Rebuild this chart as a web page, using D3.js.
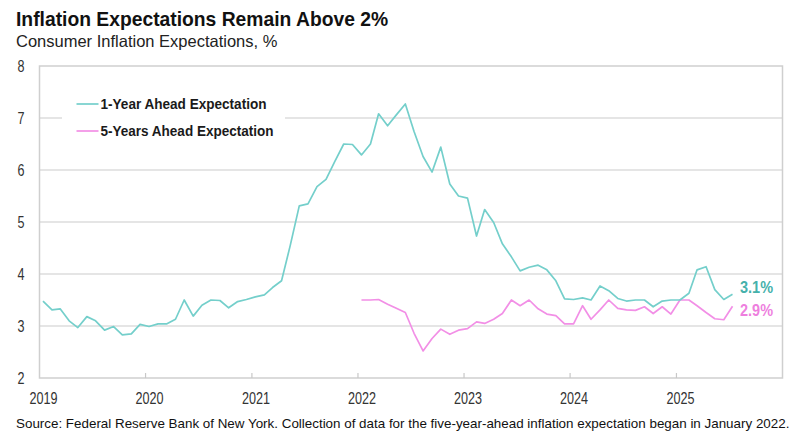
<!DOCTYPE html>
<html>
<head>
<meta charset="utf-8">
<script src="https://cdn.jsdelivr.net/npm/d3@7"></script>
<style>
  body { margin: 0; background: #fff; }
  svg text { font-family: "Liberation Sans", Arial, sans-serif; }
</style>
</head>
<body>
<div id="chart"></div>
<script>
// monthly series, Jan 2019 .. Jul 2025
const oneYearStart = [2019, 0];
const oneYear = [
  3.48, 3.31, 3.33, 3.10, 2.97, 3.18, 3.10, 2.92, 2.99, 2.83, 2.85, 3.03,
  2.99, 3.04, 3.04, 3.13, 3.50, 3.19, 3.40, 3.50, 3.49, 3.35, 3.47, 3.51,
  3.56, 3.60, 3.74, 3.87, 4.55, 5.31, 5.35, 5.68, 5.82, 6.16, 6.50, 6.49,
  6.29, 6.50, 7.08, 6.85, 7.06, 7.27, 6.74, 6.26, 5.96, 6.44, 5.73, 5.50,
  5.46, 4.73, 5.24, 4.99, 4.58, 4.33, 4.06, 4.13, 4.17, 4.08, 3.87, 3.52,
  3.51, 3.54, 3.50, 3.77, 3.68, 3.53, 3.48, 3.50, 3.50, 3.37, 3.48, 3.50,
  3.50, 3.63, 4.08, 4.14, 3.70, 3.51, 3.61
];
// five-year series starts Jan 2022
const fiveYearStart = [2022, 0];
const fiveYear = [
  3.50, 3.50, 3.51, 3.42, 3.34, 3.26, 2.86, 2.52, 2.76, 2.94, 2.84, 2.92,
  2.95, 3.08, 3.05, 3.13, 3.24, 3.50, 3.39, 3.50, 3.33, 3.23, 3.20, 3.04,
  3.04, 3.39, 3.13, 3.31, 3.50, 3.34, 3.31, 3.30, 3.37, 3.24, 3.37, 3.23,
  3.50, 3.50, 3.39, 3.26, 3.14, 3.12, 3.38
];
const yearTicks = [2019, 2020, 2021, 2022, 2023, 2024, 2025];
const yTicks = [2, 3, 4, 5, 6, 7, 8];
const seriesNames = ['1-Year Ahead Expectation', '5-Years Ahead Expectation'];
const lastLabels = ['3.1%', '2.9%'];

const W = 802, H = 439;
const teal = '#74cfcb', pink = '#f28fe6';
const tealText = '#45b1ab', pinkText = '#ee7fde';

const toPoints = (start, vals) => vals.map((v, i) => ({
  date: new Date(start[0], start[1] + i, 13), value: v
}));
const d1 = toPoints(oneYearStart, oneYear);
const d5 = toPoints(fiveYearStart, fiveYear);

const svg = d3.select('#chart').append('svg')
  .attr('width', W).attr('height', H);

const x = d3.scaleTime()
  .domain([new Date(2019, 0, 1), new Date(2026, 0, 1)])
  .range([39.5, 782.5]);
const y = d3.scaleLinear().domain([2, 8]).range([378, 66]);

// no narrow font installed, so squeeze the regular one
const squeeze = (sel, w) => sel.attr('textLength', w).attr('lengthAdjust', 'spacingAndGlyphs');

// title + subtitle
svg.append('text').attr('x', 16).attr('y', 26)
  .attr('font-size', 19.3).attr('font-weight', 'bold').attr('fill', '#111')
  .text('Inflation Expectations Remain Above 2%');
svg.append('text').attr('x', 16).attr('y', 47)
  .attr('font-size', 16.5).attr('fill', '#222')
  .text('Consumer Inflation Expectations, %');

// gridlines
svg.append('g').selectAll('line')
  .data(yTicks.slice(1, -1))
  .join('line')
    .attr('x1', x.range()[0]).attr('x2', x.range()[1])
    .attr('y1', d => y(d)).attr('y2', d => y(d))
    .attr('stroke', '#cccccc').attr('stroke-width', 1.2);

// frame
svg.append('rect')
  .attr('x', x.range()[0]).attr('y', y(8))
  .attr('width', x.range()[1] - x.range()[0]).attr('height', y(2) - y(8))
  .attr('fill', 'none').attr('stroke', '#cfcfcf').attr('stroke-width', 1.5);

// y tick labels
svg.append('g').selectAll('text')
  .data(yTicks)
  .join('text')
    .attr('x', 21).attr('y', d => y(d))
    .attr('dy', '0.35em').attr('text-anchor', 'middle')
    .attr('font-size', 16).attr('fill', '#333')
    .call(squeeze, 7)
    .text(d => d);

// x ticks (inside) + labels
const xg = svg.append('g');
xg.selectAll('line')
  .data(yearTicks.slice(1))
  .join('line')
    .attr('x1', d => x(new Date(d, 0, 1))).attr('x2', d => x(new Date(d, 0, 1)))
    .attr('y1', y(2)).attr('y2', y(2) - 5)
    .attr('stroke', '#c8c8c8').attr('stroke-width', 1.2);
xg.selectAll('text')
  .data(yearTicks)
  .join('text')
    .attr('x', d => x(new Date(d, 0, 1)) + 4).attr('y', 404)
    .attr('text-anchor', 'middle')
    .attr('font-size', 16).attr('fill', '#333')
    .call(squeeze, 28)
    .text(d => d);

// lines
const line = d3.line().x(d => x(d.date)).y(d => y(d.value));
svg.append('path').datum(d5)
  .attr('d', line).attr('fill', 'none')
  .attr('stroke', pink).attr('stroke-width', 1.7).attr('stroke-linejoin', 'round');
svg.append('path').datum(d1)
  .attr('d', line).attr('fill', 'none')
  .attr('stroke', teal).attr('stroke-width', 1.7).attr('stroke-linejoin', 'round');

// end labels
svg.append('text')
  .attr('x', 740).attr('y', 287).attr('dy', '0.35em')
  .attr('font-size', 16.5).attr('font-weight', 'bold').attr('fill', tealText)
  .call(squeeze, 33)
  .text(lastLabels[0]);
svg.append('text')
  .attr('x', 740).attr('y', 310).attr('dy', '0.35em')
  .attr('font-size', 16.5).attr('font-weight', 'bold').attr('fill', pinkText)
  .call(squeeze, 33)
  .text(lastLabels[1]);

// legend
const leg = svg.append('g');
leg.append('rect').attr('x', 62).attr('y', 90).attr('width', 223).attr('height', 56)
  .attr('fill', '#fff');
const legW = [166, 173];
[teal, pink].forEach((c, i) => {
  const ly = 104 + i * 27;
  leg.append('line').attr('x1', 76.5).attr('x2', 98.5).attr('y1', ly).attr('y2', ly)
    .attr('stroke', c).attr('stroke-width', 1.7);
  leg.append('text')
    .attr('x', 100.5).attr('y', ly).attr('dy', '0.35em')
    .attr('font-size', 15.5).attr('font-weight', 'bold').attr('fill', '#1a1a1a')
    .call(squeeze, legW[i])
    .text(seriesNames[i]);
});

// source note
svg.append('text').attr('x', 16).attr('y', 428)
  .attr('font-size', 13.4).attr('fill', '#111')
  .text('Source: Federal Reserve Bank of New York. Collection of data for the five-year-ahead inflation expectation began in January 2022.');
</script>
</body>
</html>
